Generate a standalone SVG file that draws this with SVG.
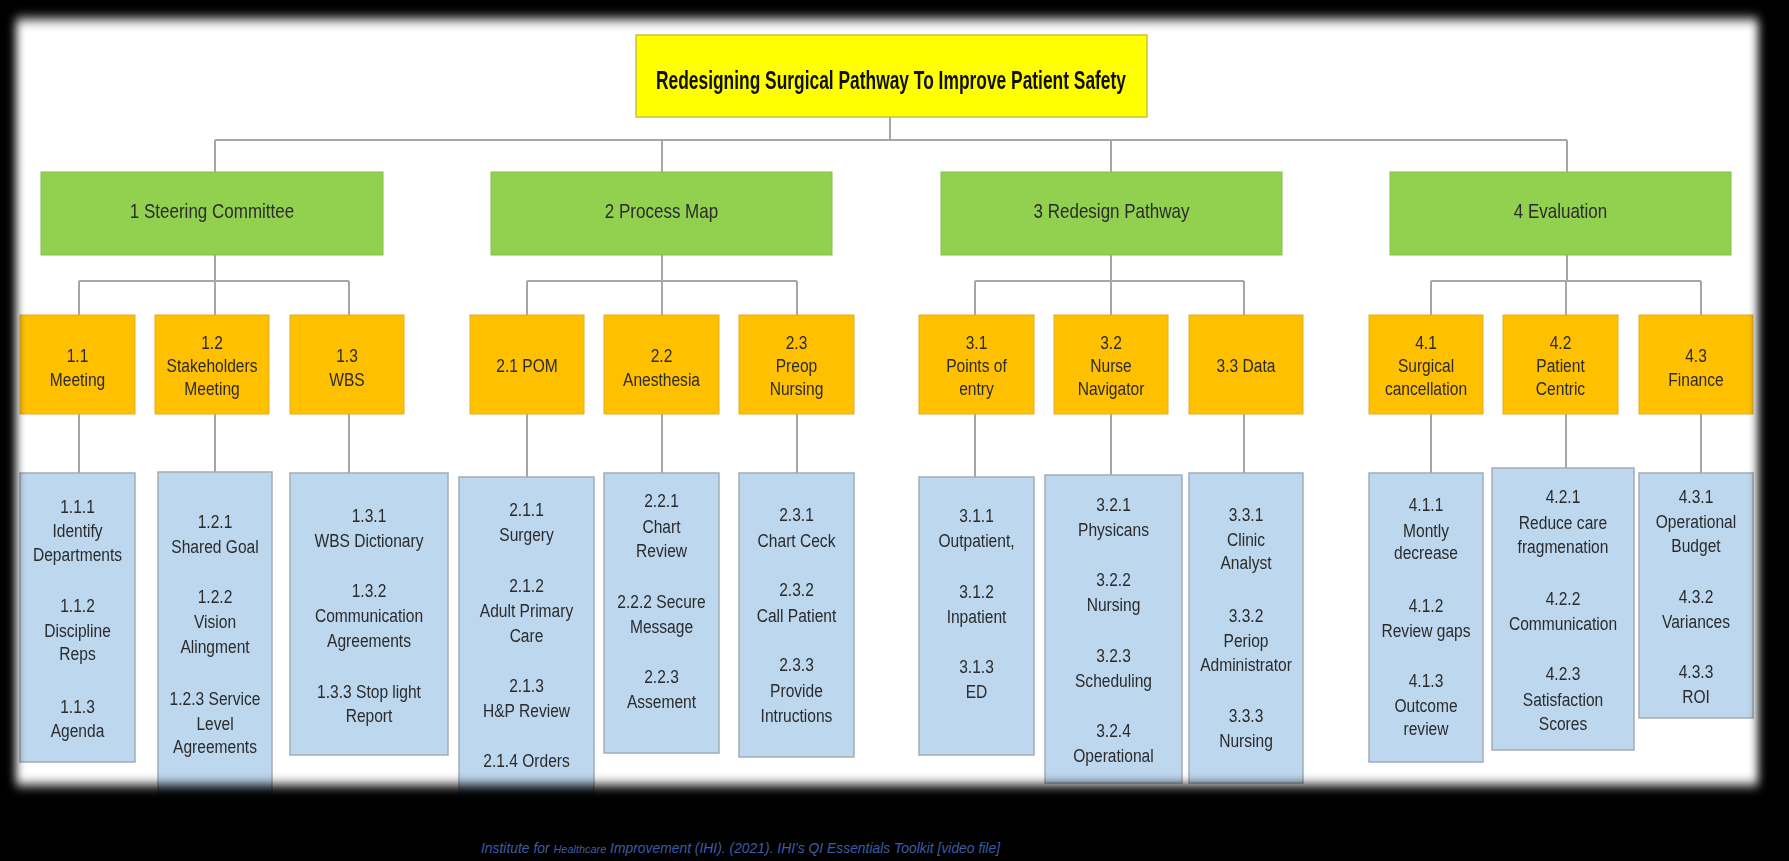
<svg xmlns="http://www.w3.org/2000/svg" width="1789" height="861" viewBox="0 0 1789 861">
<defs>
<style>
.conn{stroke:#a6a6a6;stroke-width:2;fill:none}
.root rect{fill:#ffff00;stroke:#c9c23a;stroke-width:1.5}
.l1 rect{fill:#92d050;stroke:#86bf4a;stroke-width:1}
.l2 rect{fill:#ffc000;stroke:#e0ad2a;stroke-width:1}
.l3 rect{fill:#bdd7ee;stroke:#a2acb6;stroke-width:1.5}
text{font-family:"Liberation Sans",Arial,sans-serif;fill:#2b2b2b;text-anchor:middle}
.t{font-size:19px}
.g{font-size:20px}
.title{font-size:26px;font-weight:bold;fill:#111;text-anchor:start}
.cite{font-size:14px;font-style:italic;fill:#3d5ca6;text-anchor:start}
</style>
<filter id="soft" x="-5%" y="-5%" width="110%" height="110%"><feGaussianBlur stdDeviation="5 6"/></filter>
<mask id="fade" maskUnits="userSpaceOnUse" x="0" y="0" width="1789" height="861">
<rect x="16" y="19" width="1742" height="766" fill="#fff" filter="url(#soft)"/>
</mask>
</defs>
<rect x="0" y="0" width="1789" height="861" fill="#000"/>
<g mask="url(#fade)">
<rect x="0" y="0" width="1789" height="861" fill="#fff"/>
<g id="connectors">
<path class="conn" d="M890 116V140M215 140H1567M215 140V172M662 140V172M1111 140V172M1567 140V172"/>
<path class="conn" d="M215 255V281M662 255V281M1111 255V281M1567 255V281"/>
<path class="conn" d="M79 281H349M527 281H797M975 281H1244M1431 281H1701"/>
<path class="conn" d="M79 281V315M215 281V315M349 281V315M527 281V315M662 281V315M797 281V315M975 281V315M1111 281V315M1244 281V315M1431 281V315M1566 281V315M1701 281V315"/>
<path class="conn" d="M79 414V473M215 414V472M349 414V473M527 414V477M662 414V473M797 414V473M975 414V477M1111 414V475M1244 414V473M1431 414V473M1566 414V468M1701 414V473"/>
</g>
<g id="n0" class="root"><rect x="636" y="35" width="511" height="82"/><text class="title" x="656" y="89" textLength="470" lengthAdjust="spacingAndGlyphs">Redesigning Surgical Pathway To Improve Patient Safety</text></g>
<g id="n1" class="l1"><rect x="41" y="172" width="342" height="83"/><text class="g" transform="translate(212 0) scale(0.85 1)" x="0" y="218">1 Steering Committee</text></g>
<g id="n2" class="l1"><rect x="491" y="172" width="341" height="83"/><text class="g" transform="translate(661.5 0) scale(0.85 1)" x="0" y="218">2 Process Map</text></g>
<g id="n3" class="l1"><rect x="941" y="172" width="341" height="83"/><text class="g" transform="translate(1111.5 0) scale(0.85 1)" x="0" y="218">3 Redesign Pathway</text></g>
<g id="n4" class="l1"><rect x="1390" y="172" width="341" height="83"/><text class="g" transform="translate(1560.5 0) scale(0.85 1)" x="0" y="218">4 Evaluation</text></g>

<g id="n1_1" class="l2"><rect x="20" y="315" width="115" height="99"/><text class="t" transform="translate(77.5 0) scale(0.82 1)"><tspan x="0" y="362">1.1</tspan><tspan x="0" y="386">Meeting</tspan></text></g>
<g id="n1_2" class="l2"><rect x="155" y="315" width="114" height="99"/><text class="t" transform="translate(212 0) scale(0.82 1)"><tspan x="0" y="349">1.2</tspan><tspan x="0" y="372">Stakeholders</tspan><tspan x="0" y="395">Meeting</tspan></text></g>
<g id="n1_3" class="l2"><rect x="290" y="315" width="114" height="99"/><text class="t" transform="translate(347 0) scale(0.82 1)"><tspan x="0" y="362">1.3</tspan><tspan x="0" y="386">WBS</tspan></text></g>
<g id="n2_1" class="l2"><rect x="470" y="315" width="114" height="99"/><text class="t" transform="translate(527 0) scale(0.82 1)" x="0" y="372">2.1 POM</text></g>
<g id="n2_2" class="l2"><rect x="604" y="315" width="115" height="99"/><text class="t" transform="translate(661.5 0) scale(0.82 1)"><tspan x="0" y="362">2.2</tspan><tspan x="0" y="386">Anesthesia</tspan></text></g>
<g id="n2_3" class="l2"><rect x="739" y="315" width="115" height="99"/><text class="t" transform="translate(796.5 0) scale(0.82 1)"><tspan x="0" y="349">2.3</tspan><tspan x="0" y="372">Preop</tspan><tspan x="0" y="395">Nursing</tspan></text></g>
<g id="n3_1" class="l2"><rect x="919" y="315" width="115" height="99"/><text class="t" transform="translate(976.5 0) scale(0.82 1)"><tspan x="0" y="349">3.1</tspan><tspan x="0" y="372">Points of</tspan><tspan x="0" y="395">entry</tspan></text></g>
<g id="n3_2" class="l2"><rect x="1054" y="315" width="114" height="99"/><text class="t" transform="translate(1111 0) scale(0.82 1)"><tspan x="0" y="349">3.2</tspan><tspan x="0" y="372">Nurse</tspan><tspan x="0" y="395">Navigator</tspan></text></g>
<g id="n3_3" class="l2"><rect x="1189" y="315" width="114" height="99"/><text class="t" transform="translate(1246 0) scale(0.82 1)" x="0" y="372">3.3 Data</text></g>
<g id="n4_1" class="l2"><rect x="1369" y="315" width="114" height="99"/><text class="t" transform="translate(1426 0) scale(0.82 1)"><tspan x="0" y="349">4.1</tspan><tspan x="0" y="372">Surgical</tspan><tspan x="0" y="395">cancellation</tspan></text></g>
<g id="n4_2" class="l2"><rect x="1503" y="315" width="115" height="99"/><text class="t" transform="translate(1560.5 0) scale(0.82 1)"><tspan x="0" y="349">4.2</tspan><tspan x="0" y="372">Patient</tspan><tspan x="0" y="395">Centric</tspan></text></g>
<g id="n4_3" class="l2"><rect x="1639" y="315" width="114" height="99"/><text class="t" transform="translate(1696 0) scale(0.82 1)"><tspan x="0" y="362">4.3</tspan><tspan x="0" y="386">Finance</tspan></text></g>

<g id="n1_1_x" class="l3"><rect x="20" y="473" width="115" height="289"/><text class="t" transform="translate(77.5 0) scale(0.82 1)"><tspan x="0" y="513">1.1.1</tspan><tspan x="0" y="537">Identify</tspan><tspan x="0" y="561">Departments</tspan><tspan x="0" y="612">1.1.2</tspan><tspan x="0" y="637">Discipline</tspan><tspan x="0" y="660">Reps</tspan><tspan x="0" y="713">1.1.3</tspan><tspan x="0" y="737">Agenda</tspan></text></g>
<g id="n1_2_x" class="l3"><rect x="158" y="472" width="114" height="330"/><text class="t" transform="translate(215 0) scale(0.82 1)"><tspan x="0" y="528">1.2.1</tspan><tspan x="0" y="553">Shared Goal</tspan><tspan x="0" y="603">1.2.2</tspan><tspan x="0" y="628">Vision</tspan><tspan x="0" y="653">Alingment</tspan><tspan x="0" y="705">1.2.3 Service</tspan><tspan x="0" y="730">Level</tspan><tspan x="0" y="753">Agreements</tspan></text></g>
<g id="n1_3_x" class="l3"><rect x="290" y="473" width="158" height="282"/><text class="t" transform="translate(369 0) scale(0.82 1)"><tspan x="0" y="522">1.3.1</tspan><tspan x="0" y="547">WBS Dictionary</tspan><tspan x="0" y="597">1.3.2</tspan><tspan x="0" y="622">Communication</tspan><tspan x="0" y="647">Agreements</tspan><tspan x="0" y="698">1.3.3 Stop light</tspan><tspan x="0" y="722">Report</tspan></text></g>
<g id="n2_1_x" class="l3"><rect x="459" y="477" width="135" height="325"/><text class="t" transform="translate(526.5 0) scale(0.82 1)"><tspan x="0" y="516">2.1.1</tspan><tspan x="0" y="541">Surgery</tspan><tspan x="0" y="592">2.1.2</tspan><tspan x="0" y="617">Adult Primary</tspan><tspan x="0" y="642">Care</tspan><tspan x="0" y="692">2.1.3</tspan><tspan x="0" y="717">H&amp;P Review</tspan><tspan x="0" y="767">2.1.4 Orders</tspan></text></g>
<g id="n2_2_x" class="l3"><rect x="604" y="473" width="115" height="280"/><text class="t" transform="translate(661.5 0) scale(0.82 1)"><tspan x="0" y="507">2.2.1</tspan><tspan x="0" y="533">Chart</tspan><tspan x="0" y="557">Review</tspan><tspan x="0" y="608">2.2.2 Secure</tspan><tspan x="0" y="633">Message</tspan><tspan x="0" y="683">2.2.3</tspan><tspan x="0" y="708">Assement</tspan></text></g>
<g id="n2_3_x" class="l3"><rect x="739" y="473" width="115" height="284"/><text class="t" transform="translate(796.5 0) scale(0.82 1)"><tspan x="0" y="521">2.3.1</tspan><tspan x="0" y="547">Chart Ceck</tspan><tspan x="0" y="596">2.3.2</tspan><tspan x="0" y="622">Call Patient</tspan><tspan x="0" y="671">2.3.3</tspan><tspan x="0" y="697">Provide</tspan><tspan x="0" y="722">Intructions</tspan></text></g>
<g id="n3_1_x" class="l3"><rect x="919" y="477" width="115" height="278"/><text class="t" transform="translate(976.5 0) scale(0.82 1)"><tspan x="0" y="522">3.1.1</tspan><tspan x="0" y="547">Outpatient,</tspan><tspan x="0" y="598">3.1.2</tspan><tspan x="0" y="623">Inpatient</tspan><tspan x="0" y="673">3.1.3</tspan><tspan x="0" y="698">ED</tspan></text></g>
<g id="n3_2_x" class="l3"><rect x="1045" y="475" width="137" height="308"/><text class="t" transform="translate(1113.5 0) scale(0.82 1)"><tspan x="0" y="511">3.2.1</tspan><tspan x="0" y="536">Physicans</tspan><tspan x="0" y="586">3.2.2</tspan><tspan x="0" y="611">Nursing</tspan><tspan x="0" y="662">3.2.3</tspan><tspan x="0" y="687">Scheduling</tspan><tspan x="0" y="737">3.2.4</tspan><tspan x="0" y="762">Operational</tspan></text></g>
<g id="n3_3_x" class="l3"><rect x="1189" y="473" width="114" height="310"/><text class="t" transform="translate(1246 0) scale(0.82 1)"><tspan x="0" y="521">3.3.1</tspan><tspan x="0" y="546">Clinic</tspan><tspan x="0" y="569">Analyst</tspan><tspan x="0" y="622">3.3.2</tspan><tspan x="0" y="647">Periop</tspan><tspan x="0" y="671">Administrator</tspan><tspan x="0" y="722">3.3.3</tspan><tspan x="0" y="747">Nursing</tspan></text></g>
<g id="n4_1_x" class="l3"><rect x="1369" y="473" width="114" height="289"/><text class="t" transform="translate(1426 0) scale(0.82 1)"><tspan x="0" y="511">4.1.1</tspan><tspan x="0" y="537">Montly</tspan><tspan x="0" y="559">decrease</tspan><tspan x="0" y="612">4.1.2</tspan><tspan x="0" y="637">Review gaps</tspan><tspan x="0" y="687">4.1.3</tspan><tspan x="0" y="712">Outcome</tspan><tspan x="0" y="735">review</tspan></text></g>
<g id="n4_2_x" class="l3"><rect x="1492" y="468" width="142" height="282"/><text class="t" transform="translate(1563 0) scale(0.82 1)"><tspan x="0" y="503">4.2.1</tspan><tspan x="0" y="529">Reduce care</tspan><tspan x="0" y="553">fragmenation</tspan><tspan x="0" y="605">4.2.2</tspan><tspan x="0" y="630">Communication</tspan><tspan x="0" y="680">4.2.3</tspan><tspan x="0" y="706">Satisfaction</tspan><tspan x="0" y="730">Scores</tspan></text></g>
<g id="n4_3_x" class="l3"><rect x="1639" y="473" width="114" height="245"/><text class="t" transform="translate(1696 0) scale(0.82 1)"><tspan x="0" y="503">4.3.1</tspan><tspan x="0" y="528">Operational</tspan><tspan x="0" y="552">Budget</tspan><tspan x="0" y="603">4.3.2</tspan><tspan x="0" y="628">Variances</tspan><tspan x="0" y="678">4.3.3</tspan><tspan x="0" y="703">ROI</tspan></text></g>
</g>
<text class="cite" x="481" y="853" textLength="519" lengthAdjust="spacingAndGlyphs">Institute for <tspan font-size="11px">Healthcare</tspan> Improvement (IHI). (2021). IHI's QI Essentials Toolkit [video file]</text>
</svg>
